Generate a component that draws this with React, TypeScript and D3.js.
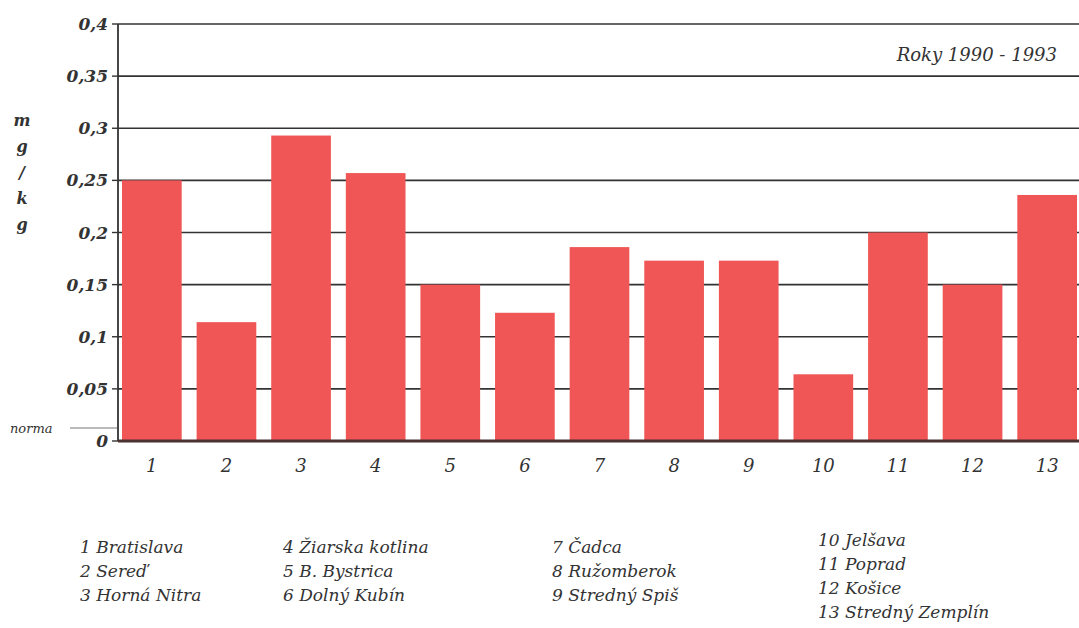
import React from "react";
import * as d3 from "d3";

const categories = ["1","2","3","4","5","6","7","8","9","10","11","12","13"];
const values = [0.25,0.114,0.293,0.257,0.15,0.123,0.186,0.173,0.173,0.064,0.2,0.15,0.236];
const yTicks = [0,0.05,0.1,0.15,0.2,0.25,0.3,0.35,0.4];
const legendCols = [
  ["1 Bratislava","2 Sereď","3 Horná Nitra"],
  ["4 Žiarska kotlina","5 B. Bystrica","6 Dolný Kubín"],
  ["7 Čadca","8 Ružomberok","9 Stredný Spiš"],
  ["10 Jelšava","11 Poprad","12 Košice","13 Stredný Zemplín"],
];
const unitLetters = ["m","g","/","k","g"];

const W = 1079, H = 628;
const left = 118, right = 1079, top = 24, bottom = 441;
const font = "'DejaVu Serif', serif";

export default function App() {
  const y = d3.scaleLinear().domain([0, 0.4]).range([bottom, top]);
  const x = d3.scaleBand().domain(categories).range([122, 1077]).paddingInner(0.2).paddingOuter(0);
  const fmt = (v: number) => String(v).replace(".", ",");
  const legendX = [80, 283, 552, 818];
  const legendY0 = [553, 553, 553, 546];
  return (
    <svg width={W} height={H} style={{ position: "absolute", left: 0, top: 0, background: "#fff" }}>
      <rect x={0} y={0} width={W} height={H} fill="#fff" />
      {yTicks.map((t) => (
        <g key={t}>
          {t > 0 && <line x1={left} x2={right} y1={y(t)} y2={y(t)} stroke="#333" strokeWidth={1.6} />}
          <line x1={left - 6} x2={left} y1={y(t)} y2={y(t)} stroke="#333" strokeWidth={1.4} />
          <text x={108} y={y(t) + 6} textAnchor="end" fontFamily={font} fontStyle="italic" fontWeight="bold" fontSize={17} fill="#333">{fmt(t)}</text>
        </g>
      ))}
      {values.map((v, i) => (
        <rect key={i} x={x(categories[i])} y={y(v)} width={x.bandwidth()} height={bottom - y(v)} fill="#f05656" />
      ))}
      <line x1={left} x2={left} y1={top} y2={bottom} stroke="#333" strokeWidth={1.8} />
      <line x1={left} x2={right} y1={bottom} y2={bottom} stroke="#4a3030" strokeWidth={3} />
      {categories.map((c) => (
        <text key={c} x={(x(c) as number) + x.bandwidth() / 2} y={472} textAnchor="middle" fontFamily={font} fontStyle="italic" fontSize={18} fill="#333">{c}</text>
      ))}
      <text x={10} y={433} fontFamily={font} fontStyle="italic" fontSize={13} fill="#333">norma</text>
      <line x1={70} x2={117} y1={428} y2={428} stroke="#777" strokeWidth={1} />
      {unitLetters.map((l, i) => (
        <text key={i} x={22} y={126 + i * 26} textAnchor="middle" fontFamily={font} fontStyle="italic" fontWeight="bold" fontSize={16} fill="#333">{l}</text>
      ))}
      <text x={1057} y={61} textAnchor="end" fontFamily={font} fontStyle="italic" fontSize={18} fill="#333">Roky 1990 - 1993</text>
      {legendCols.map((col, ci) => col.map((t, ri) => (
        <text key={ci + "-" + ri} x={legendX[ci]} y={legendY0[ci] + ri * 24} fontFamily={font} fontStyle="italic" fontSize={17} fill="#333">{t}</text>
      )))}
    </svg>
  );
}
